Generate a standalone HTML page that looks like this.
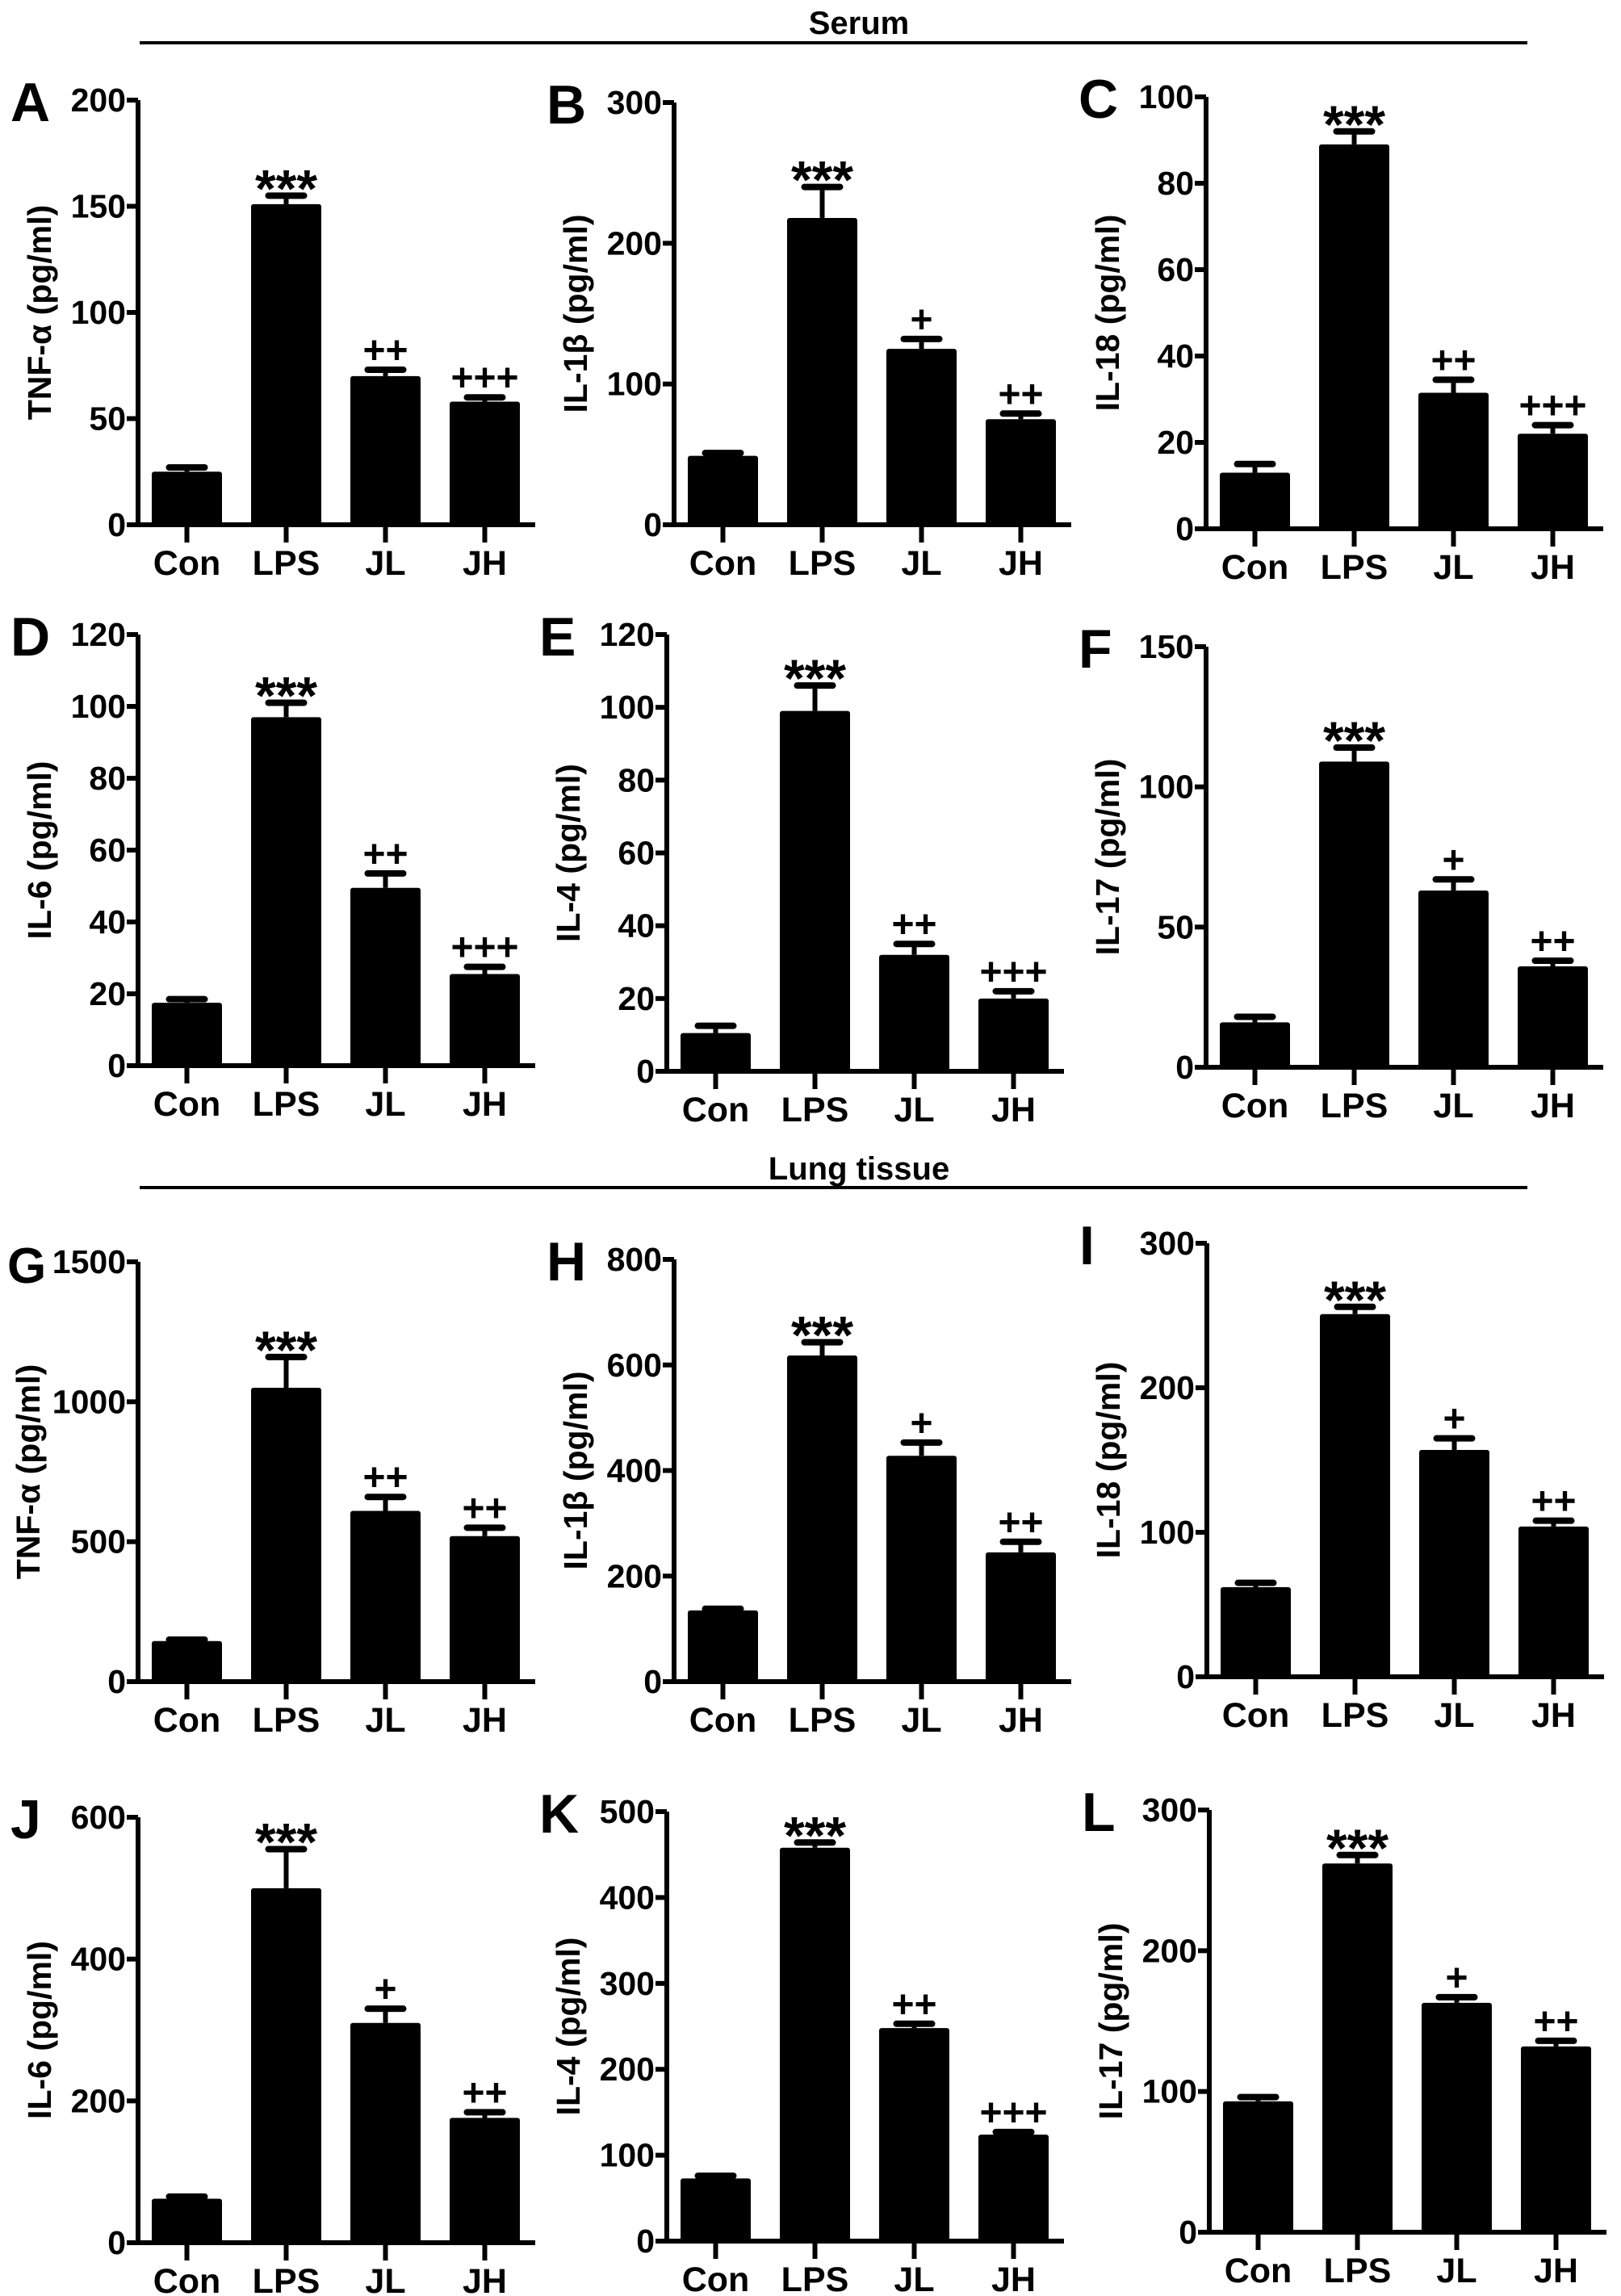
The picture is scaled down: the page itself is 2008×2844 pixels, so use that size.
<!DOCTYPE html>
<html><head><meta charset="utf-8">
<style>
html,body{margin:0;padding:0;background:#fff;}
svg{display:block;font-family:"Liberation Sans",Arial,sans-serif;font-weight:bold;}
</style></head>
<body>
<svg id="fig" width="2008" height="2844" viewBox="0 0 2008 2844" xmlns="http://www.w3.org/2000/svg">
<rect width="2008" height="2844" fill="#fff"/>
<text x="1064" y="42" font-size="40" text-anchor="middle">Serum</text>
<line x1="173" y1="53" x2="1892" y2="53" stroke="#000" stroke-width="4"/>
<text x="1064" y="1461" font-size="40" text-anchor="middle">Lung tissue</text>
<line x1="173" y1="1471" x2="1892" y2="1471" stroke="#000" stroke-width="4"/>
</svg>
<script>
const categories = ["Con","LPS","JL","JH"];
const panelLetters = ["A","B","C","D","E","F","G","H","I","J","K","L"];
const panelTitles = ["TNF-α (pg/ml)","IL-1β (pg/ml)","IL-18 (pg/ml)","IL-6 (pg/ml)","IL-4 (pg/ml)","IL-17 (pg/ml)","TNF-α (pg/ml)","IL-1β (pg/ml)","IL-18 (pg/ml)","IL-6 (pg/ml)","IL-4 (pg/ml)","IL-17 (pg/ml)"];
const meansA = [25,151,70,58];   const errA = [2,4,3,2];
const meansB = [49,218,125,75];  const errB = [2,22,7,4];
const meansC = [13,89,31.5,22];  const errC = [2,3,3,2];
const meansD = [17.5,97,49.5,25.5]; const errD = [1,4,4,2];
const meansE = [10.5,99,32,20];  const errE = [2,7,3,2];
const meansF = [16,109,63,36];   const errF = [2,5,4,2];
const meansG = [145,1050,610,520]; const errG = [5,110,50,30];
const meansH = [135,618,428,245]; const errH = [3,25,25,20];
const meansI = [62,251,157,104]; const errI = [3,5,8,4];
const meansJ = [62,500,310,176]; const errJ = [3,55,20,8];
const meansK = [73,458,248,124]; const errK = [3,6,5,3];
const meansL = [93,262,163,132]; const errL = [3,6,4,4];
const sigA = ["","***","++","+++"]; const sigB = ["","***","+","++"]; const sigC = ["","***","++","+++"];
const sigD = ["","***","++","+++"]; const sigE = ["","***","++","+++"]; const sigF = ["","***","+","++"];
const sigG = ["","***","++","++"]; const sigH = ["","***","+","++"]; const sigI = ["","***","+","++"];
const sigJ = ["","***","+","++"]; const sigK = ["","***","++","+++"]; const sigL = ["","***","+","++"];
const ticksA = [0,50,100,150,200]; const ticksB = [0,100,200,300]; const ticksC = [0,20,40,60,80,100];
const ticksD = [0,20,40,60,80,100,120]; const ticksE = [0,20,40,60,80,100,120]; const ticksF = [0,50,100,150];
const ticksG = [0,500,1000,1500]; const ticksH = [0,200,400,600,800]; const ticksI = [0,100,200,300];
const ticksJ = [0,200,400,600]; const ticksK = [0,100,200,300,400,500]; const ticksL = [0,100,200,300];

const allMeans=[meansA,meansB,meansC,meansD,meansE,meansF,meansG,meansH,meansI,meansJ,meansK,meansL];
const allErr=[errA,errB,errC,errD,errE,errF,errG,errH,errI,errJ,errK,errL];
const allSig=[sigA,sigB,sigC,sigD,sigE,sigF,sigG,sigH,sigI,sigJ,sigK,sigL];
const allTicks=[ticksA,ticksB,ticksC,ticksD,ticksE,ticksF,ticksG,ticksH,ticksI,ticksJ,ticksK,ticksL];
const layout=[[171,124,650],[835,127,650],[1494,120,655],
[171,786,1320],[826,786,1327],[1494,801,1322],
[171,1563,2083],[835,1560,2083],[1495,1540,2077],
[171,2251,2778],[826,2244,2776],[1498,2242,2765]];
const NS="http://www.w3.org/2000/svg";
const svg=document.getElementById('fig');
function mk(tag,attrs,parent){const e=document.createElementNS(NS,tag);for(const k in attrs)e.setAttribute(k,attrs[k]);(parent||svg).appendChild(e);return e;}
for(let p=0;p<12;p++){
  const [ax,top,zero]=layout[p];
  const ticks=allTicks[p], max=ticks[ticks.length-1];
  const y=v=>zero-(v/max)*(zero-top);
  const g=mk('g',{});
  
  
  const L=mk('text',{x:ax-(p===6?162:158),y:top+26,'font-size':p===6?62:68,'text-anchor':'start'},g);
  L.textContent=panelLetters[p];
  
  
  const ya=mk('line',{x1:ax,y1:top,x2:ax,y2:zero+2,stroke:'#000','stroke-width':6},g);
  
  
  const xa=mk('line',{x1:ax-14,y1:zero,x2:ax+492,y2:zero,stroke:'#000','stroke-width':6},g);
  
  
  ticks.forEach(t=>{
    mk('line',{x1:ax-14,y1:y(t),x2:ax,y2:y(t),stroke:'#000','stroke-width':6},g);
    const tt=mk('text',{x:ax-15,y:y(t)+14,'font-size':41,'text-anchor':'end'},g);
    tt.textContent=t;
    
    
  });
  const off=(p===6)?122:108;
  const yt=mk('text',{x:0,y:0,'font-size':41,'text-anchor':'middle',transform:`translate(${ax-off},${(top+zero)/2}) rotate(-90)`},g);
  yt.textContent=panelTitles[p];
  
  
  const m=allMeans[p], e=allErr[p], s=allSig[p];
  categories.forEach((c,i)=>{
    const x0=ax+17+i*123, cx=x0+43.5;
    mk('line',{x1:cx,y1:zero,x2:cx,y2:zero+22,stroke:'#000','stroke-width':6},g);
    const cl=mk('text',{x:cx,y:zero+62,'font-size':43,'text-anchor':'middle'},g);
    cl.textContent=c;
    
    
    const yt2=y(m[i]+e[i]);
    mk('line',{x1:cx,y1:y(m[i]),x2:cx,y2:yt2,stroke:'#000','stroke-width':6},g);
    const cap=mk('line',{x1:cx-22,y1:yt2,x2:cx+22,y2:yt2,stroke:'#000','stroke-width':8,'stroke-linecap':'round'},g);
    
    
    const b=mk('rect',{x:x0,y:y(m[i]),width:87,height:zero-y(m[i]),fill:'#000',rx:3},g);
    
    
    if(s[i]){
      const st=s[i].startsWith('*');
      const sg=mk('text',{x:cx,y:st?yt2+14:yt2-8,'font-size':st?66:48,'text-anchor':'middle'},g);
      sg.textContent=s[i];
      
      
    }
  });
}
</script>
</body></html>
